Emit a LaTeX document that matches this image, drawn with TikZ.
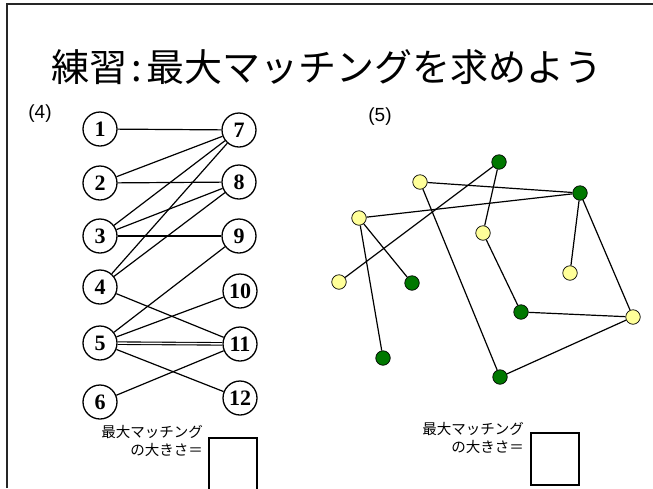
\documentclass[tikz,border=0pt]{standalone}
\usepackage{fontspec}
\setmainfont{Liberation Serif}
\newfontfamily\cjkfont{Noto Sans CJK JP}
\newfontfamily\arialfont{Liberation Sans}
\definecolor{ylw}{RGB}{255,255,153}
\definecolor{grn}{RGB}{0,120,0}
\begin{document}
\begin{tikzpicture}[x=1pt,y=-1pt,
  num/.style={circle,draw,line width=1.3pt,minimum size=34pt,inner sep=0pt,font=\fontsize{22}{22}\selectfont\bfseries},
  edge/.style={line width=1.2pt},
  ynode/.style={circle,draw,line width=0.7pt,fill=ylw,minimum size=14.5pt,inner sep=0pt},
  gnode/.style={circle,draw,line width=0.7pt,fill=grn,minimum size=14.5pt,inner sep=0pt},
  small/.style={font=\cjkfont\fontsize{14.5}{18.5}\selectfont,align=right,inner sep=0pt},
  lab/.style={font=\arialfont\fontsize{19}{19}\selectfont,inner sep=0pt}]
\useasboundingbox (0,0) rectangle (653,488);
\fill[white] (0,0) rectangle (653,488);
\draw[line width=2.5pt,black!85] (7,488) -- (7,4) -- (653,4);
\node[font=\cjkfont\fontsize{38}{38}\selectfont,inner sep=0pt] (title) at (327,67) {練習\hspace{4pt}:\hspace{4pt}最大マッチングを求めよう};
\node[lab] (l4) at (40,114) {(4)};
\node[lab] (l5) at (380,117) {(5)};
% bipartite
\node[num] (n1) at (100,129) {1};
\node[num] (n2) at (100,183) {2};
\node[num] (n3) at (100,236) {3};
\node[num] (n4) at (100,287) {4};
\node[num] (n5) at (100,343) {5};
\node[num] (n6) at (100,402) {6};
\node[num] (n7) at (239,130) {7};
\node[num] (n8) at (239,182) {8};
\node[num] (n9) at (239,236) {9};
\node[num] (n10) at (240,291) {10};
\node[num] (n11) at (240,344) {11};
\node[num] (n12) at (240,398) {12};
\draw[edge] (n1) -- (n7);
\draw[edge] (n2) -- (n7);
\draw[edge] (n2) -- (n8);
\draw[edge] (n3) -- (n7);
\draw[edge] (n3) -- (n8);
\draw[edge] (n3) -- (n9);
\draw[edge] (n4) -- (n7);
\draw[edge] (n4) -- (n8);
\draw[edge] (n4) -- (n11);
\draw[edge] (n5) -- (n9);
\draw[edge] (n5) -- (n10);
\draw[double,double distance=1.4pt,line width=1.1pt] (n5) -- (n11);
\draw[edge] (n5) -- (n12);
\draw[edge] (n6) -- (n11);
\node[small,anchor=north east] (t4) at (203,425) {最大マッチング\\の大きさ＝};
\draw[line width=1.2pt] (209,438) rectangle (257,492);
% general graph
\node[gnode] (g1) at (499,162) {};
\node[ynode] (y1) at (420,182) {};
\node[gnode] (g2) at (580,193) {};
\node[ynode] (y2) at (359,218) {};
\node[ynode] (y3) at (483,233) {};
\node[ynode] (y4) at (339,282) {};
\node[gnode] (g3) at (412,283) {};
\node[ynode] (y5) at (570,273) {};
\node[gnode] (g4) at (521,312) {};
\node[ynode] (y6) at (633,317) {};
\node[gnode] (g5) at (383,358) {};
\node[gnode] (g6) at (500,377) {};
\draw[edge] (g1) -- (y4);
\draw[edge] (g1) -- (y3);
\draw[edge] (y1) -- (g2);
\draw[edge] (y2) -- (g2);
\draw[edge] (y2) -- (g3);
\draw[edge] (y2) -- (g5);
\draw[edge] (y1) -- (g6);
\draw[edge] (y3) -- (g4);
\draw[edge] (g2) -- (y5);
\draw[edge] (g2) -- (y6);
\draw[edge] (g4) -- (y6);
\draw[edge] (g6) -- (y6);
\node[small,anchor=north east] (t5) at (524,422) {最大マッチング\\の大きさ＝};
\draw[line width=1.2pt] (531,433) rectangle (579,485);
\end{tikzpicture}
\end{document}
